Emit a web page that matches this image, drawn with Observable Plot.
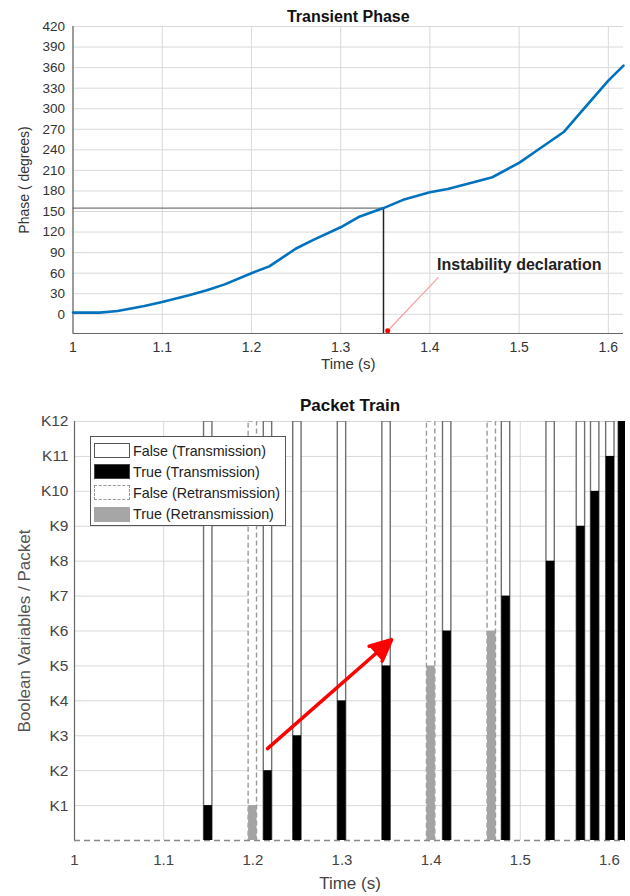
<!DOCTYPE html>
<html><head><meta charset="utf-8">
<script src="https://cdn.jsdelivr.net/npm/d3@7"></script>
<script src="https://cdn.jsdelivr.net/npm/@observablehq/plot@0.6"></script>
<style>
body{margin:0;background:#fff;width:630px;height:896px;position:relative;overflow:hidden;font-family:"Liberation Sans",Arial,sans-serif}
#top{position:absolute;left:0;top:0}
#bottom{position:absolute;left:0;top:375px}
#legend{position:absolute;left:90px;top:436px;width:196px;height:90px;border:1px solid #555;background:#fff;box-sizing:border-box;padding:3px 0 0 3px}
.row{display:flex;align-items:center;height:21.2px}
.sw{width:36px;height:15px;box-sizing:border-box;margin-right:3px}
.lab{font-size:14.3px;color:#222;white-space:nowrap}
</style></head>
<body>
<div id="top"></div>
<div id="bottom"></div>
<div id="legend"></div>
<script>
// ---------- Top chart data ----------
const phaseTime = [1.000,1.030,1.050,1.080,1.100,1.130,1.150,1.170,1.200,1.220,1.250,1.270,1.300,1.320,1.348,1.370,1.400,1.420,1.450,1.470,1.500,1.520,1.550,1.570,1.600,1.617];
const phaseDeg  = [2.5,2.5,4.8,12,18,27.7,35,43.7,60,70,96,109,127,142,155,167,178,183,193,200,221,239,266,296,341,363];
const topXTicks = [1,1.1,1.2,1.3,1.4,1.5,1.6];
const topYTicks = [0,30,60,90,120,150,180,210,240,270,300,330,360,390,420];
const instabilityTime = [1.348];
const instabilityPhase = [155];
const annotationText = ["Instability declaration"];
const annotationTextPos = [1.408, 72];
const annotationLine = [1.4095, 54, 1.3527, -24];

// ---------- Bottom chart data ----------
const packetTime = [1.150,1.200,1.217,1.250,1.300,1.350,1.400,1.418,1.468,1.484,1.534,1.568,1.584,1.601,1.615];
const packetTrue = [1,1,2,3,4,5,5,6,6,7,8,9,10,11,12];
const packetKind = ["T","R","T","T","T","T","R","T","R","T","T","T","T","T","T"];
const kLabels = ["K1","K2","K3","K4","K5","K6","K7","K8","K9","K10","K11","K12"];
const kValues = [1,2,3,4,5,6,7,8,9,10,11,12];
const botXTicks = [1,1.1,1.2,1.3,1.4,1.5,1.6];
const arrowFrom = [1.2164, 2.63];
const arrowTo = [1.3556, 5.75];
const legendLabels = ["False (Transmission)","True (Transmission)","False (Retransmission)","True (Retransmission)"];

const FONT = "Liberation Sans, Arial, sans-serif";

// ---------- Top chart ----------
const phase = phaseTime.map((t,i)=>({t, v: phaseDeg[i]}));
const yMinTop = -28;
const topPlot = Plot.plot({
  width: 630, height: 375,
  marginLeft: 72.5, marginRight: 7, marginTop: 26, marginBottom: 42,
  x: {domain: [1, 1.617]},
  y: {domain: [yMinTop, 420]},
  style: {fontFamily: FONT, color: "#333", background: "#fff"},
  marks: [
    Plot.gridX(topXTicks, {stroke: "#d9d9d9", strokeOpacity: 1}),
    Plot.gridY(topYTicks, {stroke: "#d9d9d9", strokeOpacity: 1}),
    Plot.axisX(topXTicks, {tickSize: 0, tickPadding: 9, fontSize: 14, label: null, fill: "#333", tickFormat: d => String(d)}),
    Plot.axisY(topYTicks, {tickSize: 0, tickPadding: 8, fontSize: 13.5, label: null, fill: "#333", tickFormat: d => String(d)}),
    Plot.ruleX([1], {stroke: "#666", strokeWidth: 1.2}),
    Plot.ruleY([yMinTop], {stroke: "#666", strokeWidth: 1.2}),
    Plot.ruleY(instabilityPhase, {x1: 1, x2: instabilityTime[0], stroke: "#555", strokeWidth: 1}),
    Plot.ruleX(instabilityTime, {y1: yMinTop, y2: instabilityPhase[0], stroke: "#222", strokeWidth: 1.5}),
    Plot.line(phase, {x: "t", y: "v", stroke: "#0072BD", strokeWidth: 2.6}),
    Plot.link([annotationLine], {x1: d=>d[0], y1: d=>d[1], x2: d=>d[2], y2: d=>d[3], stroke: "#f4a0a0", strokeWidth: 1.2}),
    Plot.dot([annotationLine], {x: d=>d[2], y: d=>d[3], r: 2.5, fill: "#ff0000", stroke: "none"}),
    Plot.text(annotationText, {x: annotationTextPos[0], y: annotationTextPos[1], text: d=>d, textAnchor: "start", lineAnchor: "middle", fontWeight: "bold", fontSize: 16, fill: "#222"}),
    Plot.text(["Transient Phase"], {frameAnchor: "top", dy: -10, lineAnchor: "middle", textAnchor: "middle", text: d=>d, fontWeight: "bold", fontSize: 16, fill: "#111"}),
    Plot.text(["Phase ( degrees)"], {frameAnchor: "left", dx: -48, rotate: -90, textAnchor: "middle", lineAnchor: "middle", text: d=>d, fontSize: 14, fill: "#333"}),
    Plot.text(["Time (s)"], {frameAnchor: "bottom", dy: 31, lineAnchor: "middle", textAnchor: "middle", text: d=>d, fontSize: 15, fill: "#333"})
  ]
});
document.getElementById("top").appendChild(topPlot);

// ---------- Bottom chart ----------
const half = 0.0047;
const packets = packetTime.map((t,i)=>({t, k: packetTrue[i], kind: packetKind[i]}));
const trans = packets.filter(d => d.kind === "T");
const retrans = packets.filter(d => d.kind === "R");
const botPlot = Plot.plot({
  width: 630, height: 521,
  marginLeft: 74, marginRight: 5, marginTop: 46, marginBottom: 56,
  x: {domain: [1, 1.618]},
  y: {domain: [0, 12]},
  style: {fontFamily: FONT, color: "#333", background: "#fff"},
  marks: [
    Plot.gridX(botXTicks, {stroke: "#d9d9d9", strokeOpacity: 1}),
    Plot.gridY(kValues, {stroke: "#d9d9d9", strokeOpacity: 1}),
    Plot.axisX(botXTicks, {tickSize: 0, tickPadding: 14, fontSize: 15, label: null, fill: "#444", tickFormat: d => String(d)}),
    Plot.axisY(kValues, {tickSize: 0, tickPadding: 6, fontSize: 15.5, label: null, fill: "#444", tickFormat: d => kLabels[d-1]}),
    Plot.ruleX([1], {stroke: "#666", strokeWidth: 1.2}),
    Plot.ruleY([0], {stroke: "#888", strokeWidth: 1.6, strokeDasharray: "6,4"}),
    Plot.rectY(retrans, {x1: d=>d.t-half, x2: d=>d.t+half, y1: 0, y2: 12, fill: "white", stroke: "#999", strokeWidth: 1.4, strokeDasharray: "5,3", clip: true}),
    Plot.rectY(retrans, {x1: d=>d.t-half, x2: d=>d.t+half, y1: 0, y2: d=>d.k, fill: "#a3a3a3", clip: true}),
    Plot.rectY(trans, {x1: d=>d.t-half, x2: d=>d.t+half, y1: 0, y2: 12, fill: "white", stroke: "#707070", strokeWidth: 1.4, clip: true}),
    Plot.rectY(trans, {x1: d=>d.t-half, x2: d=>d.t+half, y1: 0, y2: d=>d.k, fill: "#000", clip: true}),
    Plot.arrow([[arrowFrom, arrowTo]], {x1: d=>d[0][0], y1: d=>d[0][1], x2: d=>d[1][0], y2: d=>d[1][1], stroke: "#ff0000", fill: "#ff0000", strokeWidth: 3.5, headLength: 10, headAngle: 50, strokeLinejoin: "miter"}),
    Plot.text(["Packet Train"], {frameAnchor: "top", dy: -16, lineAnchor: "middle", textAnchor: "middle", text: d=>d, fontWeight: "bold", fontSize: 17, fill: "#111"}),
    Plot.text(["Boolean Variables / Packet"], {frameAnchor: "left", dx: -50, rotate: -90, textAnchor: "middle", lineAnchor: "middle", text: d=>d, fontSize: 17, fill: "#555"}),
    Plot.text(["Time (s)"], {frameAnchor: "bottom", dy: 43, lineAnchor: "middle", textAnchor: "middle", text: d=>d, fontSize: 17, fill: "#444"})
  ]
});
document.getElementById("bottom").appendChild(botPlot);

// ---------- Legend ----------
const swatchStyles = [
  "background:#fff;border:1.5px solid #555",
  "background:#000;border:1.5px solid #444",
  "background:#fff;border:1.5px dashed #999",
  "background:#a6a6a6;border:1px solid #a6a6a6"
];
const leg = document.getElementById("legend");
legendLabels.forEach((lab, i) => {
  const row = document.createElement("div");
  row.className = "row";
  row.innerHTML = `<div class="sw" style="${swatchStyles[i]}"></div><span class="lab">${lab}</span>`;
  leg.appendChild(row);
});
</script>
</body></html>
